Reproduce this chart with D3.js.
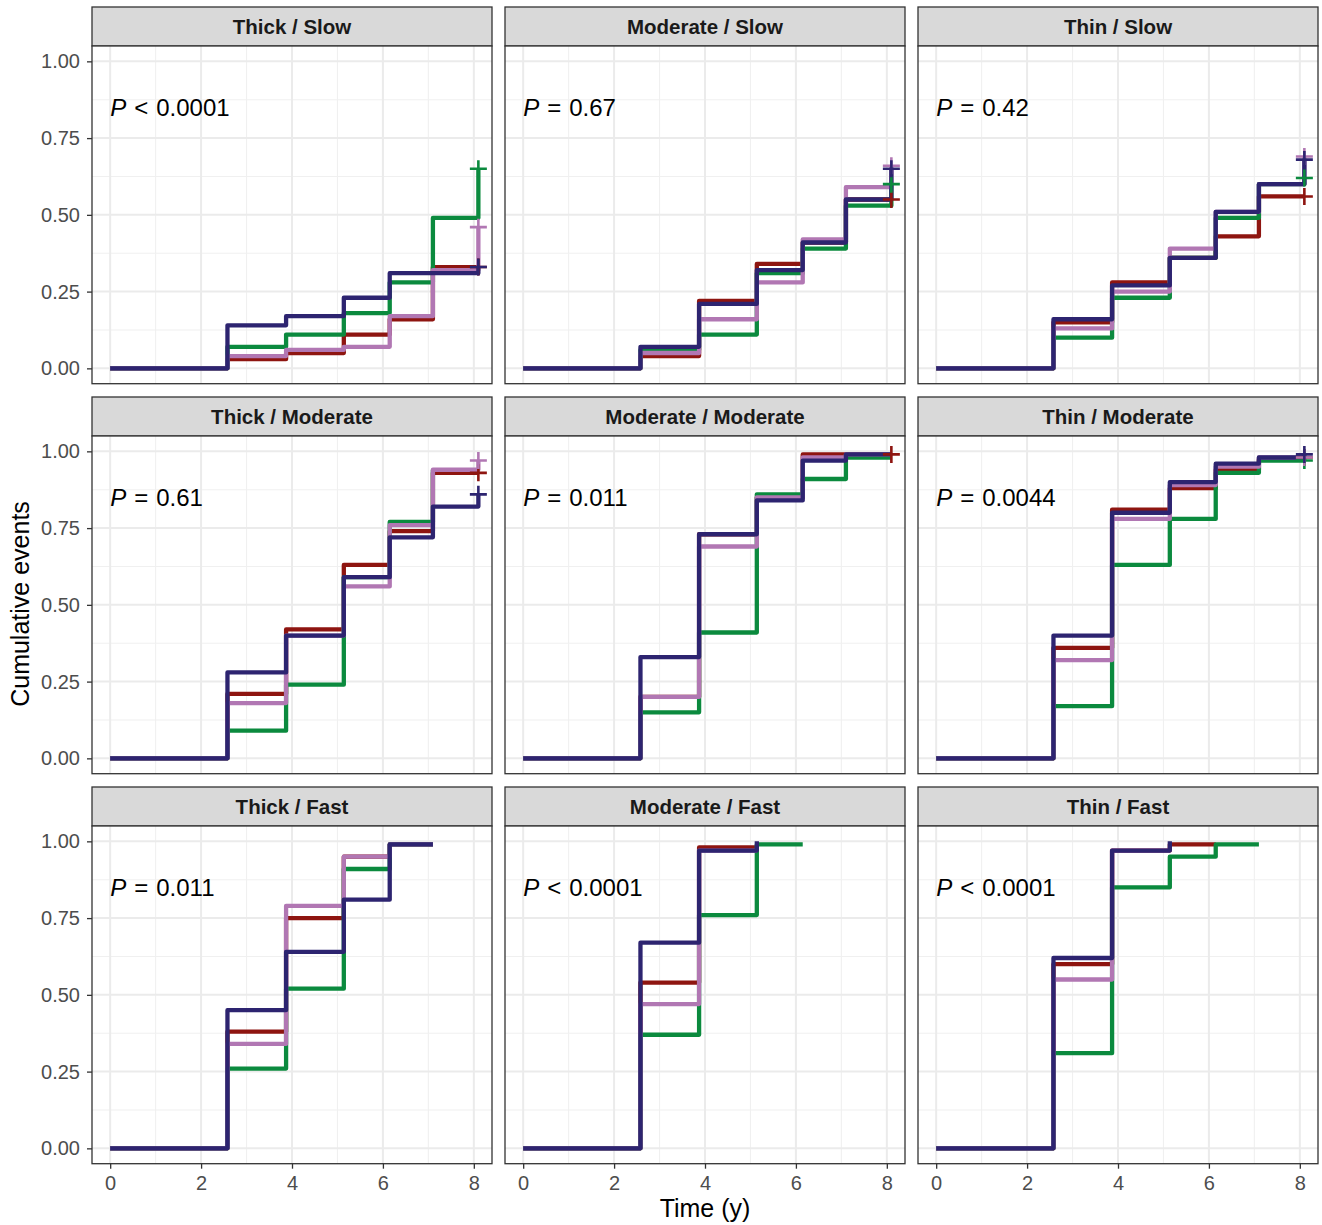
<!DOCTYPE html>
<html><head><meta charset="utf-8">
<script src="https://cdn.jsdelivr.net/npm/d3@7"></script>
<style>
body{margin:0;background:#fff}
svg{display:block}
text{font-family:"Liberation Sans",Arial,Helvetica,sans-serif}
</style>
</head><body>
<svg id="chart" width="1322" height="1225"></svg>
<script>
// ---------- DATA ----------
const times = [0, 2.58, 3.87, 5.14, 6.15, 7.1, 8.1];
const panelTitles = ["Thick / Slow", "Moderate / Slow", "Thin / Slow",
                     "Thick / Moderate", "Moderate / Moderate", "Thin / Moderate",
                     "Thick / Fast", "Moderate / Fast", "Thin / Fast"];
const seriesColors = ["#8E1510", "#0B8A3E", "#B177B3", "#2D2470"]; // red, green, purple, navy
const pOps = ["<", "=", "=", "=", "=", "=", "=", "<", "<"];
const pValues = ["0.0001", "0.67", "0.42", "0.61", "0.011", "0.0044", "0.011", "0.0001", "0.0001"];
const xTicks = [0, 2, 4, 6, 8];
const yTicks = [0, 0.25, 0.5, 0.75, 1];
const yTickLabels = ["0.00", "0.25", "0.50", "0.75", "1.00"];

// cumulative event values at each time (series order: red, green, purple, navy)
const thickSlow = [
  [0, .03, .05, .11, .16, .33, .33],
  [0, .07, .11, .18, .28, .49, .65],
  [0, .04, .06, .07, .17, .32, .46],
  [0, .14, .17, .23, .31, .31, .33]];
const moderateSlow = [
  [0, .04, .22, .34, .41, .55, .55],
  [0, .06, .11, .31, .39, .53, .60],
  [0, .05, .16, .28, .42, .59, .66],
  [0, .07, .21, .32, .41, .55, .65]];
const thinSlow = [
  [0, .15, .28, .36, .43, .56, .56],
  [0, .10, .23, .36, .49, .60, .62],
  [0, .13, .25, .39, .51, .60, .69],
  [0, .16, .27, .36, .51, .60, .68]];
const thickModerate = [
  [0, .21, .42, .63, .74, .93, .93],
  [0, .09, .24, .59, .77, .94],
  [0, .18, .40, .56, .76, .94, .97],
  [0, .28, .40, .59, .72, .82, .86]];
const moderateModerate = [
  [0, .20, .73, .85, .99, .99, .99],
  [0, .15, .41, .86, .91, .98, .98],
  [0, .20, .69, .85, .98, .99, .99],
  [0, .33, .73, .84, .97, .99, .99]];
const thinModerate = [
  [0, .36, .81, .88, .94, .975, .98],
  [0, .17, .63, .78, .93, .97, .97],
  [0, .32, .78, .89, .95, .98, .98],
  [0, .40, .80, .90, .96, .98, .99]];
const thickFast = [
  [0, .38, .75, .95, .99, .99],
  [0, .26, .52, .91, .99, .99],
  [0, .34, .79, .95, .99, .99],
  [0, .45, .64, .81, .99, .99]];
const moderateFast = [
  [0, .54, .98, .98],
  [0, .37, .76, .99, .99],
  [0, .47, .97, .97],
  [0, .67, .97, 1.0]];
const thinFast = [
  [0, .60, .97, .99, .99],
  [0, .31, .85, .95, .99, .99],
  [0, .55, .97, .97],
  [0, .62, .97, 1.0]];
const panelData = [thickSlow, moderateSlow, thinSlow, thickModerate, moderateModerate,
                   thinModerate, thickFast, moderateFast, thinFast];
// censor (+) marks at the final time per series
const censorFlags = [
  [1,1,1,1], [1,1,1,1], [1,1,1,1],
  [1,0,1,1], [1,0,0,0], [1,1,1,1],
  [0,0,0,0], [0,0,0,0], [0,0,0,0]];

// ---------- LAYOUT ----------
const svg = d3.select("#chart");
const left0 = 92, top0 = 7, panelW = 400, stripH = 39, panelH = 337.7;
const colStep = 413, rowStep = 390;
const x = d3.scaleLinear().domain([-0.4, 8.4]).range([0, panelW]);
const y = d3.scaleLinear().domain([-0.05, 1.05]).range([panelH, 0]);
const line = d3.line().x(d => x(d[0])).y(d => y(d[1])).curve(d3.curveStepAfter);

svg.append("rect").attr("width", 1322).attr("height", 1225).attr("fill", "#fff");

panelData.forEach((series, pi) => {
  const col = pi % 3, row = Math.floor(pi / 3);
  const gx = left0 + col * colStep, gy = top0 + row * rowStep;
  const strip = svg.append("g").attr("transform", `translate(${gx},${gy})`);
  strip.append("rect").attr("width", panelW).attr("height", stripH)
    .attr("fill", "#D9D9D9").attr("stroke", "#333333").attr("stroke-width", 1.3);
  strip.append("text").attr("x", panelW / 2).attr("y", 27.2).attr("text-anchor", "middle")
    .attr("font-size", 20.5).attr("font-weight", "bold").attr("fill", "#1A1A1A")
    .text(panelTitles[pi]);

  const g = svg.append("g").attr("transform", `translate(${gx},${gy + stripH})`);
  g.append("rect").attr("width", panelW).attr("height", panelH).attr("fill", "#fff");
  // minor grid
  const xMinor = [1, 3, 5, 7], yMinor = [0.125, 0.375, 0.625, 0.875];
  g.selectAll(".xm").data(xMinor).join("line").attr("x1", d => x(d)).attr("x2", d => x(d))
    .attr("y1", 0).attr("y2", panelH).attr("stroke", "#F0F0F0").attr("stroke-width", 1.1);
  g.selectAll(".ym").data(yMinor).join("line").attr("y1", d => y(d)).attr("y2", d => y(d))
    .attr("x1", 0).attr("x2", panelW).attr("stroke", "#F0F0F0").attr("stroke-width", 1.1);
  // major grid
  g.selectAll(".xg").data(xTicks).join("line").attr("x1", d => x(d)).attr("x2", d => x(d))
    .attr("y1", 0).attr("y2", panelH).attr("stroke", "#EBEBEB").attr("stroke-width", 2);
  g.selectAll(".yg").data(yTicks).join("line").attr("y1", d => y(d)).attr("y2", d => y(d))
    .attr("x1", 0).attr("x2", panelW).attr("stroke", "#EBEBEB").attr("stroke-width", 2);

  // curves
  series.forEach((vals, si) => {
    const pts = vals.map((v, i) => [times[i], v]);
    g.append("path").attr("d", line(pts)).attr("fill", "none")
      .attr("stroke", seriesColors[si]).attr("stroke-width", 4.3)
      .attr("stroke-linejoin", "round").attr("stroke-linecap", "butt");
  });
  // censor marks
  series.forEach((vals, si) => {
    if (!censorFlags[pi][si]) return;
    const n = vals.length;
    g.append("path").attr("d", "M-8.5,0H8.5M0,-8.5V8.5")
      .attr("transform", `translate(${x(times[n - 1])},${y(vals[n - 1])})`)
      .attr("fill", "none").attr("stroke", seriesColors[si]).attr("stroke-width", 2.6);
  });

  // p-value text
  const pt = g.append("text").attr("x", x(0)).attr("y", y(0.85) + 8.5)
    .attr("font-size", 24).attr("fill", "#000");
  pt.append("tspan").attr("font-style", "italic").text("P");
  pt.append("tspan").attr("dx", 8).text(pOps[pi]);
  pt.append("tspan").attr("dx", 8).text(pValues[pi]);

  // border
  g.append("rect").attr("width", panelW).attr("height", panelH).attr("fill", "none")
    .attr("stroke", "#333333").attr("stroke-width", 1.3);

  // axes
  if (col === 0) {
    const ya = g.append("g").call(d3.axisLeft(y).tickValues(yTicks)
      .tickFormat((d, i) => yTickLabels[i]).tickSize(5).tickPadding(7));
    ya.select(".domain").remove();
    ya.selectAll("line").attr("stroke", "#333333").attr("stroke-width", 1.3);
    ya.selectAll("text").attr("font-size", 20).attr("fill", "#4D4D4D")
      .attr("font-family", "Liberation Sans, Arial, sans-serif");
  }
  if (row === 2) {
    const xa = g.append("g").attr("transform", `translate(0,${panelH})`)
      .call(d3.axisBottom(x).tickValues(xTicks).tickFormat(d3.format("d")).tickSize(5).tickPadding(7));
    xa.select(".domain").remove();
    xa.selectAll("line").attr("stroke", "#333333").attr("stroke-width", 1.3);
    xa.selectAll("text").attr("font-size", 20).attr("fill", "#4D4D4D")
      .attr("font-family", "Liberation Sans, Arial, sans-serif");
  }
});

// axis titles
svg.append("text").attr("transform", "translate(28.5,604) rotate(-90)")
  .attr("text-anchor", "middle").attr("font-size", 25).attr("fill", "#000")
  .text("Cumulative events");
svg.append("text").attr("x", 705).attr("y", 1217).attr("text-anchor", "middle")
  .attr("font-size", 25).attr("fill", "#000").text("Time (y)");
</script>
</body></html>
